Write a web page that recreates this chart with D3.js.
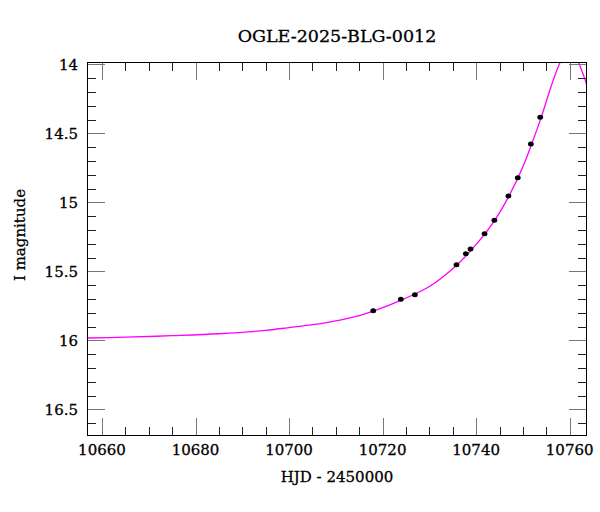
<!DOCTYPE html>
<html>
<head>
<meta charset="utf-8">
<script src="https://cdn.jsdelivr.net/npm/d3@7"></script>
<style>
  html, body { margin: 0; padding: 0; background: #fff; }
  svg text { font-family: "DejaVu Serif", serif; fill: #000; stroke: #000; stroke-width: 0.3px; }
</style>
</head>
<body>
<svg id="chart" width="600" height="512"></svg>
<script>
// ---- data ----
const title = "OGLE-2025-BLG-0012";
const xLabel = "HJD - 2450000";
const yLabel = "I magnitude";

// observed photometry
const obsHJD = [10718.0, 10723.9, 10726.9, 10735.8, 10737.8, 10738.8, 10741.8, 10743.9, 10746.9, 10748.9, 10751.7, 10753.7];
const obsMag = [15.786, 15.703, 15.670, 15.452, 15.372, 15.338, 15.228, 15.130, 14.954, 14.822, 14.578, 14.384];

// model light curve samples
const modelHJD = [10656.8, 10665, 10675, 10685, 10695, 10700, 10705, 10710, 10715, 10718, 10724, 10730, 10736, 10740, 10744, 10747, 10750, 10752, 10754, 10756, 10758, 10759, 10760, 10761, 10762, 10763.7];
const modelMag = [15.983, 15.977, 15.966, 15.952, 15.928, 15.907, 15.886, 15.858, 15.820, 15.788, 15.708, 15.610, 15.450, 15.305, 15.128, 14.955, 14.742, 14.565, 14.375, 14.162, 13.981, 13.926, 13.910, 13.935, 13.996, 14.153];

const xMajorTicks = [10660, 10680, 10700, 10720, 10740, 10760];
const xMinorTicks = [10665, 10670, 10675, 10685, 10690, 10695, 10705, 10710, 10715, 10725, 10730, 10735, 10745, 10750, 10755];
const yMajorTicks = [14, 14.5, 15, 15.5, 16, 16.5];
const yMinorTicks = [14.1, 14.2, 14.3, 14.4, 14.6, 14.7, 14.8, 14.9, 15.1, 15.2, 15.3, 15.4, 15.6, 15.7, 15.8, 15.9, 16.1, 16.2, 16.3, 16.4, 16.6];
const yTickLabels = ["14", "14.5", "15", "15.5", "16", "16.5"];

// ---- layout ----
const L = 87, R = 587, T = 62, B = 436;
const svg = d3.select("#chart");

const x = d3.scaleLinear().domain([10656.8, 10763.7]).range([L, R]);
const y = d3.scaleLinear().domain([13.983, 16.693]).range([T, B]);

// clip
svg.append("defs").append("clipPath").attr("id", "clip")
  .append("rect").attr("x", L).attr("y", T).attr("width", R - L).attr("height", B - T);

// model curve
const model = modelHJD.map((t, i) => [t, modelMag[i]]);
svg.append("path")
  .attr("clip-path", "url(#clip)")
  .attr("d", d3.line().x(d => x(d[0])).y(d => y(d[1])).curve(d3.curveCatmullRom.alpha(0.5))(model))
  .attr("fill", "none").attr("stroke", "#ff00ff").attr("stroke-width", 1.3);

// points
const obs = obsHJD.map((t, i) => [t, obsMag[i]]);
svg.append("g").selectAll("ellipse").data(obs).join("ellipse")
  .attr("cx", d => x(d[0])).attr("cy", d => y(d[1]))
  .attr("rx", 2.9).attr("ry", 2.5).attr("fill", "#000");

// ticks (inward on all sides)
const majLen = 18, minLen = 9;
const majCol = "#777", minCol = "#222";
const tg = svg.append("g").attr("shape-rendering", "crispEdges");
function vTicks(vals, len, col) {
  vals.forEach(v => {
    const px = Math.round(x(v)) + 0.5;
    tg.append("line").attr("x1", px).attr("x2", px).attr("y1", B).attr("y2", B - len).attr("stroke", col);
    tg.append("line").attr("x1", px).attr("x2", px).attr("y1", T).attr("y2", T + len).attr("stroke", col);
  });
}
function hTicks(vals, len, col) {
  vals.forEach(v => {
    const py = Math.round(y(v)) + 0.5;
    tg.append("line").attr("y1", py).attr("y2", py).attr("x1", L).attr("x2", L + len).attr("stroke", col);
    tg.append("line").attr("y1", py).attr("y2", py).attr("x1", R).attr("x2", R - len).attr("stroke", col);
  });
}
vTicks(xMinorTicks, minLen, minCol);
vTicks(xMajorTicks, majLen, majCol);
hTicks(yMinorTicks, minLen, minCol);
hTicks(yMajorTicks, majLen, majCol);

// frame
svg.append("rect").attr("x", L + 0.5).attr("y", T + 0.5).attr("width", R - L - 1).attr("height", B - T - 1)
  .attr("fill", "none").attr("stroke", "#000").attr("stroke-width", 1);

// tick labels
svg.append("g").selectAll("text").data(xMajorTicks).join("text")
  .attr("x", d => x(d)).attr("y", 455)
  .attr("text-anchor", "middle").attr("font-size", 15).text(d => d);
svg.append("g").selectAll("text").data(yMajorTicks).join("text")
  .attr("x", 78).attr("y", d => y(d)).attr("dy", "0.36em")
  .attr("text-anchor", "end").attr("font-size", 15).text((d, i) => yTickLabels[i]);

// axis titles
svg.append("text").attr("x", (L + R) / 2).attr("y", 482)
  .attr("text-anchor", "middle").attr("font-size", 15).text(xLabel);
svg.append("text").attr("transform", "translate(25,235) rotate(-90)")
  .attr("text-anchor", "middle").attr("font-size", 15).text(yLabel);
svg.append("text").attr("x", (L + R) / 2).attr("y", 41.5)
  .attr("text-anchor", "middle").attr("font-size", 17.5).text(title);
</script>
</body>
</html>
